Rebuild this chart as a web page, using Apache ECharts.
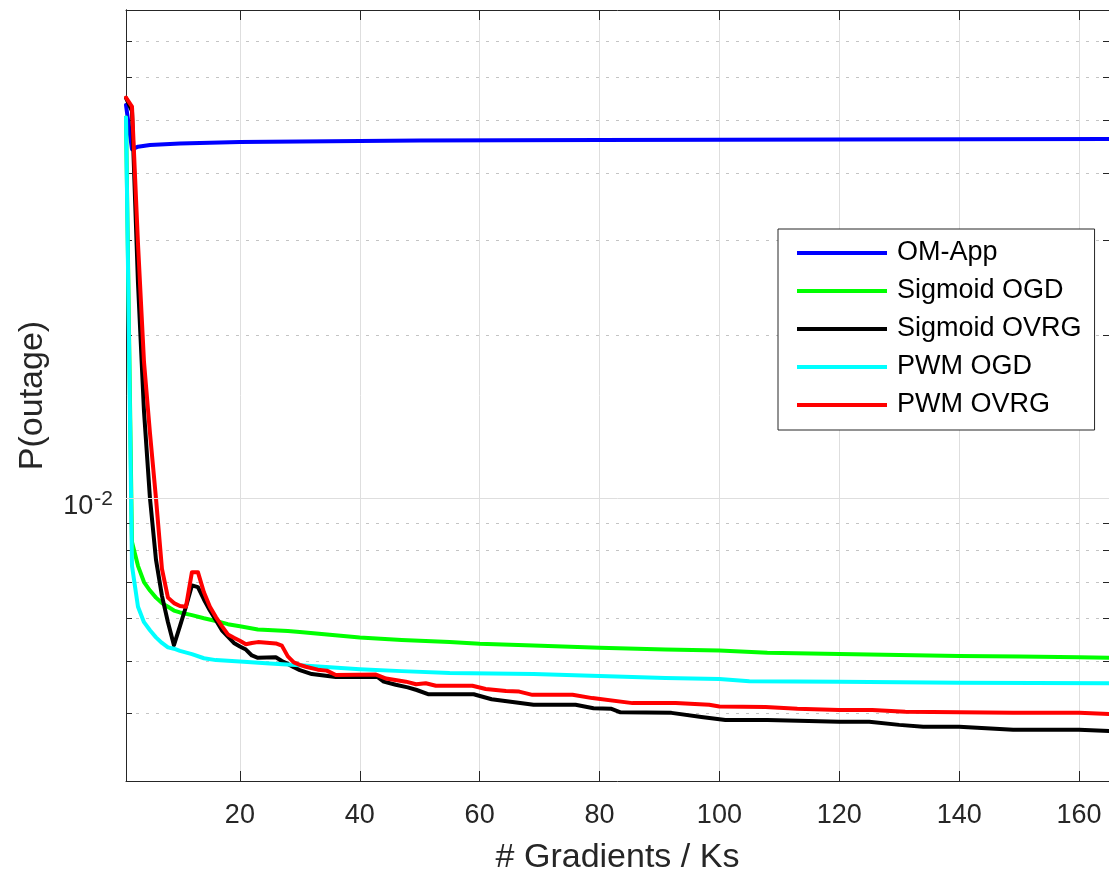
<!DOCTYPE html>
<html>
<head>
<meta charset="utf-8">
<script src="https://cdn.jsdelivr.net/npm/echarts@6/dist/echarts.min.js"></script>
<style>html,body{margin:0;padding:0;background:#fff}#c{width:1109px;height:880px}</style>
</head>
<body>
<div id="c"></div>
<script>
// ---- data ----
const seriesNames = ['OM-App', 'Sigmoid OGD', 'Sigmoid OVRG', 'PWM OGD', 'PWM OVRG'];
const seriesColors = ['#0000ff', '#00ff00', '#000000', '#00ffff', '#ff0000'];

const omApp = [[1,0.0534],[2,0.0442],[3,0.0447],[5,0.0450],[10,0.0453],[20,0.0456],[30,0.0457],[50,0.0459],[80,0.0460],[120,0.0461],[165,0.0462]];

const sigmoidOgd = [[1,0.0506],[2,0.0083],[3,0.0075],[4,0.0070],[5,0.00675],[6,0.00655],[7,0.0064],[8,0.0063],[9,0.0062],[10,0.00615],[12,0.00608],[14,0.0060],[16,0.00593],[18,0.00585],[20,0.0058],[23,0.00572],[28,0.00568],[30,0.00566],[35,0.00559],[40,0.00553],[47,0.00547],[55,0.00542],[60,0.00538],[69,0.00534],[80,0.00529],[91,0.00525],[100,0.00523],[108,0.00518],[120,0.00515],[140,0.00511],[150,0.0051],[160,0.00508],[165,0.00507]];

const sigmoidOvrg = [[1,0.055],[2,0.052],[3,0.025],[4,0.0145],[5,0.0100],[6,0.0077],[7,0.0066],[8,0.0059],[9,0.00535],[10,0.0058],[11,0.0063],[12,0.0069],[13,0.00685],[14,0.0065],[15,0.0062],[16,0.00595],[17,0.0057],[18,0.00555],[19,0.0054],[20,0.00532],[21,0.00525],[22,0.00512],[23,0.00507],[26,0.00508],[27,0.005],[28,0.00494],[29,0.00487],[30,0.00481],[32,0.00473],[34,0.0047],[36,0.00467],[43,0.00467],[44,0.00458],[46,0.00452],[48,0.00447],[49.5,0.00442],[51.5,0.00434],[59,0.00434],[62,0.00425],[65.5,0.0042],[69,0.00415],[76,0.00415],[79,0.00409],[82,0.00408],[83.5,0.00402],[92,0.00401],[97,0.00394],[101,0.00389],[108,0.00389],[120,0.00386],[125,0.00386],[130,0.00381],[134,0.00378],[140,0.00378],[149,0.00373],[160,0.00373],[165,0.00371]];

const pwmOgd = [[1,0.0506],[2,0.0075],[3,0.0063],[4,0.0059],[5,0.0057],[6,0.00553],[7,0.0054],[8,0.0053],[9,0.00527],[10,0.00522],[12,0.00515],[14,0.00506],[16,0.00502],[20,0.00499],[25,0.00495],[30,0.00491],[40,0.00483],[47,0.00479],[55,0.00475],[69,0.00473],[80,0.00469],[91,0.00465],[100,0.00463],[105,0.00459],[120,0.00458],[140,0.00456],[165,0.00455]];

const pwmOvrg = [[1,0.0551],[2,0.053],[3,0.0296],[4,0.0179],[5,0.0132],[6,0.0100],[7,0.0074],[8,0.00655],[9,0.0064],[10,0.00632],[11,0.0063],[12,0.0073],[13,0.0073],[14,0.0067],[15,0.0063],[16,0.00603],[17,0.0058],[18,0.0056],[19,0.00552],[20,0.00545],[21,0.00537],[22,0.0054],[23,0.00542],[26,0.00539],[27,0.00534],[28,0.0051],[29,0.00497],[30,0.00492],[31,0.00488],[33,0.00482],[34.5,0.0048],[36,0.00471],[42.7,0.00472],[44.4,0.00464],[47.7,0.00458],[49.4,0.00453],[51,0.00455],[52.7,0.0045],[58.8,0.0045],[61,0.00444],[64.4,0.0044],[66.6,0.00439],[68.8,0.00433],[75.5,0.00433],[78.8,0.00427],[85.5,0.00418],[92.7,0.00418],[98.3,0.00415],[100,0.00412],[107.7,0.00411],[113,0.00408],[120,0.00406],[125.5,0.00406],[131,0.00403],[140,0.00402],[149,0.00401],[160,0.00401],[165,0.00399]];

const xTicks = [20, 40, 60, 80, 100, 120, 140, 160];
const yMajorTicks = [0.01];
const yMinorTicks = [0.004, 0.005, 0.006, 0.007, 0.008, 0.009, 0.02, 0.03, 0.04, 0.05, 0.06, 0.07];
const xRange = [1, 165];
const yRange = [0.003, 0.08];

// ---- chart ----
const FONT = 'Liberation Sans, Arial, Helvetica, sans-serif';
const AX = '#262626';
const allData = [omApp, sigmoidOgd, sigmoidOvrg, pwmOgd, pwmOvrg];

function yAxisBase(position, ticks, tickLen) {
  return {
    type: 'log', logBase: 10, min: yRange[0], max: yRange[1], position: position,
    axisLine: {show: true, lineStyle: {color: AX, width: 1}},
    axisTick: {show: true, inside: true, length: tickLen, customValues: ticks, lineStyle: {color: AX, width: 1}},
    axisLabel: {show: false},
    splitLine: {show: false}
  };
}

const yAxes = [
  Object.assign(yAxisBase('left', yMinorTicks, 6), {
    splitLine: {show: true, lineStyle: {color: '#c4c4c4', width: 1, type: [3, 7]}}
  }),
  yAxisBase('right', yMinorTicks, 6),
  Object.assign(yAxisBase('left', yMajorTicks, 10), {
    name: 'P(outage)', nameLocation: 'middle', nameRotate: 90, nameGap: 76,
    nameTextStyle: {fontFamily: FONT, fontSize: 34, color: AX},
    axisLabel: {
      show: true, customValues: yMajorTicks, margin: 13, padding: [16, 0, 0, 0],
      formatter: function (v) { return '{b|10}{s|' + Math.round(Math.log10(v)) + '}'; },
      rich: {
        b: {fontFamily: FONT, fontSize: 27, lineHeight: 36, color: AX},
        s: {fontFamily: FONT, fontSize: 21, lineHeight: 26, verticalAlign: 'top', color: AX, padding: [0, 0, 0, 1]}
      }
    }
  }),
  yAxisBase('right', yMajorTicks, 10)
];

const xAxes = [
  {
    type: 'value', min: xRange[0], max: xRange[1], position: 'bottom',
    name: '# Gradients / Ks', nameLocation: 'middle', nameGap: 60,
    nameTextStyle: {fontFamily: FONT, fontSize: 34, color: AX},
    axisLine: {show: true, lineStyle: {color: AX, width: 1}},
    axisTick: {show: true, inside: true, length: 10, customValues: xTicks, lineStyle: {color: AX}},
    axisLabel: {show: true, customValues: xTicks, margin: 21, fontFamily: FONT, fontSize: 27, color: AX},
    splitLine: {show: true, lineStyle: {color: '#dedede', width: 1, type: 'solid'}}
  },
  {
    type: 'value', min: xRange[0], max: xRange[1], position: 'top',
    axisLine: {show: true, lineStyle: {color: AX, width: 1}},
    axisTick: {show: true, inside: true, length: 10, customValues: xTicks, lineStyle: {color: AX}},
    axisLabel: {show: false},
    splitLine: {show: false}
  }
];

const series = allData.map(function (d, i) {
  const s = {
    name: seriesNames[i], type: 'line', data: d, xAxisIndex: 0, yAxisIndex: 0,
    showSymbol: false, symbol: 'none', silent: true,
    lineStyle: {color: seriesColors[i], width: 4, join: 'round', cap: 'round'},
    itemStyle: {color: seriesColors[i]}
  };
  if (i === 0) {
    s.markLine = {
      silent: true, symbol: 'none', label: {show: false}, animation: false,
      lineStyle: {color: '#dedede', width: 1, type: 'solid'},
      data: yMajorTicks.map(function (v) { return {yAxis: v}; })
    };
  }
  return s;
});

const chart = echarts.init(document.getElementById('c'), null, {renderer: 'canvas'});
chart.setOption({
  animation: false,
  backgroundColor: '#ffffff',
  grid: {left: 126, right: 0, top: 10, bottom: 93, containLabel: false},
  xAxis: xAxes,
  yAxis: yAxes,
  legend: {
    orient: 'vertical', left: 778, top: 229, icon: 'rect',
    itemWidth: 90, itemHeight: 4, itemGap: 8, selectedMode: false,
    padding: [9, 13, 10, 19],
    backgroundColor: '#ffffff', borderColor: AX, borderWidth: 1, borderRadius: 0,
    textStyle: {fontFamily: FONT, fontSize: 27, lineHeight: 30, color: '#000', padding: [0, 0, 0, 5]},
    data: seriesNames
  },
  series: series
});
</script>
</body>
</html>
